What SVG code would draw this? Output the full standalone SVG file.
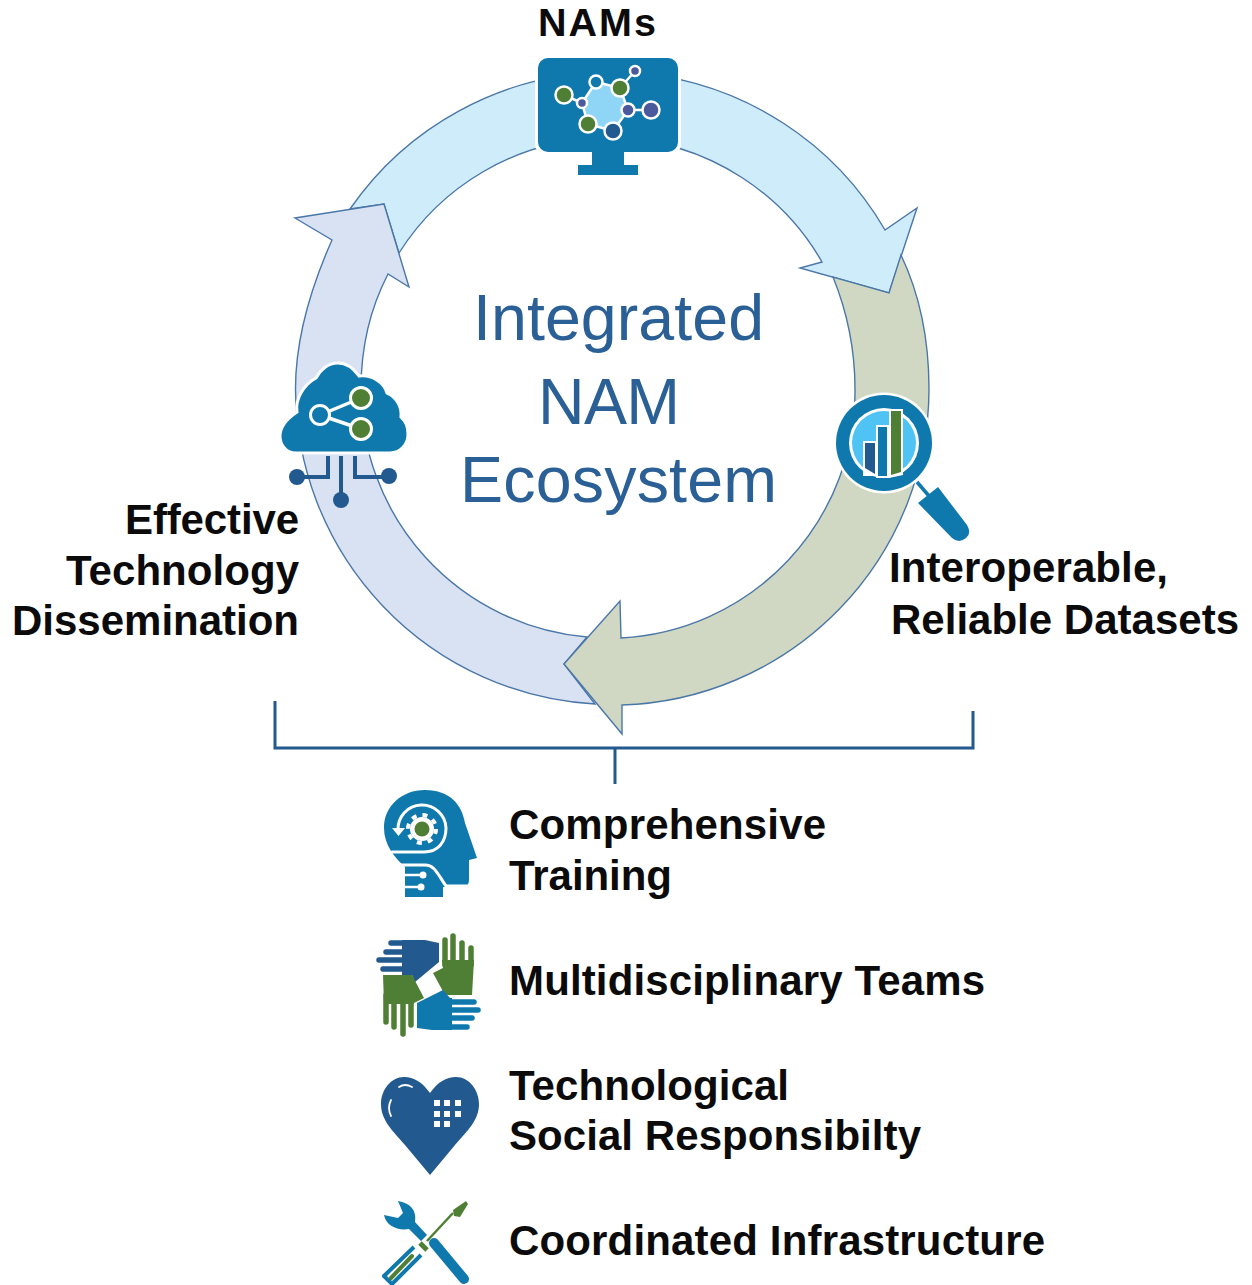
<svg xmlns="http://www.w3.org/2000/svg" width="1252" height="1285" viewBox="0 0 1252 1285">
<style>
.arrow{stroke:#4a77a8;stroke-width:1.4;stroke-linejoin:miter}
.t{font-family:"Liberation Sans",Arial,sans-serif;font-weight:700;font-size:42px;fill:#0b0b0b}
.c{font-family:"Liberation Sans",Arial,sans-serif;font-size:64.5px;fill:#2a6096}
.wl{fill:none;stroke:#fff;stroke-linecap:round}
.dk{fill:#22598f}.bl{fill:#0f79ad}.gr{fill:#4f7f35}.pu{fill:#4a5a9c}
.ring{stroke:#fff;stroke-width:2.5}
.dkf{stroke:#22598f;stroke-width:5.500;stroke-linecap:round;fill:none}
.grf{stroke:#4f7f35;stroke-width:5.500;stroke-linecap:round;fill:none}
.blf{stroke:#0f79ad;stroke-width:5.500;stroke-linecap:round;fill:none}
</style>
<rect width="1252" height="1285" fill="#fff"/>
<g id="connectors">
<path id="arrow-nams" class="arrow" fill="#cfecfb" d="M350 209A317 317 0 0 1 885 230L917 208L889 293L800 268L822 262A247 247 0 0 0 399 253L384 204Z"/>
<path id="arrow-dissemination" class="arrow" fill="#d9e2f3" d="M595 704A317 317 0 0 1 295.500 389C295.500 335 312 285 332 240L295 218L384 204L409 287L388 274C372 305 361 345 361 389A247 247 0 0 0 587 637L564 664Z"/>
<path id="arrow-datasets" class="arrow" fill="#d0d8c3" d="M901 255C920 295 929 340 929 389A317 317 0 0 1 622 705L622 734L564 664L620 601L621 638A247 247 0 0 0 855 389C855 348 846 309 833 277L889 293Z"/>
<path id="bracket" d="M275 701V748H973V711M615 748V784" fill="none" stroke="#22598f" stroke-width="3"/>
</g>
<g id="center-label">
<text class="c" x="473" y="340" textLength="291">Integrated</text>
<text class="c" x="538" y="424" textLength="142">NAM</text>
<text class="c" x="460" y="502" textLength="317">Ecosystem</text>
</g>
<g id="node-nams">
<text class="t" x="538" y="36" textLength="118" style="font-size:39.500px">NAMs</text>
<path fill="#fff" d="M546 55H670A11 11 0 0 1 681 66V144A11 11 0 0 1 670 155H627V162H641V178H575V162H589V155H546A11 11 0 0 1 535 144V66A11 11 0 0 1 546 55Z"/>
<path class="bl" d="M548 58H668A10 10 0 0 1 678 68V142A10 10 0 0 1 668 152H624V165H638V175H578V165H592V152H548A10 10 0 0 1 538 142V68A10 10 0 0 1 548 58Z"/>
<polygon points="582,103 596,82 620,88 628,110 613,131 588,124" fill="#8fd6f6" stroke="#fff" stroke-width="2.500"/>
<path d="M564 95L582 103M620 88L635 71M628 110L651 110" stroke="#fff" stroke-width="2.500"/>
<circle class="gr ring" cx="564" cy="95" r="8.500"/>
<circle class="pu ring" cx="582" cy="103" r="5"/>
<circle class="bl ring" cx="596" cy="82" r="6.500"/>
<circle class="gr ring" cx="620" cy="88" r="8.500"/>
<circle class="pu ring" cx="635" cy="71" r="5"/>
<circle class="pu ring" cx="628" cy="110" r="6.500"/>
<circle class="pu ring" cx="651" cy="110" r="8.500"/>
<circle class="dk ring" cx="613" cy="131" r="8.500"/>
<circle class="gr ring" cx="588" cy="124" r="8.500"/>
</g>
<g id="node-datasets">
<circle cx="884" cy="443" r="50.500" fill="#fff"/>
<circle class="bl" cx="884" cy="443" r="48"/>
<circle cx="884" cy="443" r="35" fill="#fff"/>
<circle cx="884" cy="443" r="32" fill="#4fc3f3"/>
<path d="M863 441H877V476H863ZM876 425H889V478H876ZM889 409H903V475L889 478Z" fill="#fff"/>
<path class="dk" d="M865 443H875V474L865 468Z"/>
<path class="bl" d="M878 427H887V476H878Z"/>
<path class="gr" d="M891 411H901V472L891 475Z"/>
<path d="M917 482L929 496" stroke="#0f79ad" stroke-width="3.500"/>
<path class="bl" d="M938 487L967 525Q972 533 966 538Q959 544 952 538L918 503Z"/>
<text class="t" x="889" y="582" textLength="279">Interoperable,</text>
<text class="t" x="891" y="634" textLength="348">Reliable Datasets</text>
</g>
<g id="node-dissemination">
<path id="cloud" class="bl" stroke="#fff" stroke-width="3" d="M296 453C285 453 280 444 280 436C280 426 288 418 297 412C295 400 303 385 316 378C320 370 328 363 338 363C348 363 354 369 359 376C371 374 384 382 387 393C397 397 402 408 401 417C407 422 408 428 408 434C408 445 400 453 390 453Z"/>
<path class="wl" stroke-width="3.500" d="M320 415L361 398M320 415L361 429"/>
<circle class="bl" cx="320" cy="415" r="9.500" stroke="#fff" stroke-width="3"/>
<circle class="gr" cx="361" cy="398" r="10.500" stroke="#fff" stroke-width="3"/>
<circle class="gr" cx="361" cy="429" r="10.500" stroke="#fff" stroke-width="3"/>
<path d="M341 456V497M328 456V477H297M355 456V477H388" fill="none" stroke="#22598f" stroke-width="4"/>
<circle class="dk" cx="341" cy="500" r="8"/>
<circle class="dk" cx="297" cy="477" r="8"/>
<circle class="dk" cx="389" cy="476" r="8"/>
<text class="t" x="299" y="534" text-anchor="end" textLength="174">Effective</text>
<text class="t" x="299" y="585" text-anchor="end" textLength="233">Technology</text>
<text class="t" x="299" y="635" text-anchor="end" textLength="287">Dissemination</text>
</g>
<g id="node-training">
<path class="bl" d="M425 790C450 790 462 805 465 823L477 858L469 860V880Q469 887 462 887H443V897H405V867C395 858 384 845 384 828C384 806 402 790 425 790Z"/>
<path class="wl" stroke-width="3" stroke-linecap="butt" d="M398 830A24 24 0 0 1 446 828C446 842 438 852 424 852L392 852"/>
<path d="M392 828H405L398.500 836Z" fill="#fff"/>
<path class="wl" stroke-width="3" stroke-linecap="butt" d="M400 865H425C435 865 438 875 446 886H472"/>
<circle cx="422" cy="829" r="12" fill="#fff"/>
<circle cx="422" cy="829" r="14" fill="none" stroke="#fff" stroke-width="4" stroke-dasharray="5 6"/>
<circle class="gr" cx="422" cy="829" r="7.500"/>
<path class="wl" stroke-width="2.500" stroke-linecap="butt" d="M405 875H422M405 887H420"/>
<circle cx="423" cy="875" r="3.500" fill="#fff"/><circle cx="421" cy="887" r="3.500" fill="#fff"/>
<text class="t" x="509" y="839" textLength="317">Comprehensive</text>
<text class="t" x="509" y="890" textLength="163">Training</text>
</g>
<g id="node-teams">
<path class="dkf" d="M391 943H415M386 952H415M379 960H415M383 969H415"/>
<path class="dk" d="M402 940H425L439 943V962L415 982L412 975H402Z"/>
<path class="grf" d="M445 965V940M453 965V936M462 965V943M471 965V948"/>
<path class="gr" d="M442 960H474L472 995H445L433 973L443 968Z"/>
<path class="grf" d="M386 995V1022M394 995V1027M403 995V1034M411 995V1025"/>
<path class="gr" d="M383 975H412L424 998L414 1003V1004H384Z"/>
<path class="blf" d="M445 1002H474M445 1010H478M445 1018H472M445 1027H467"/>
<path class="bl" d="M443 990L450 998H452V1030H432L417 1028V1003Z"/>
<text class="t" x="509" y="995" textLength="476">Multidisciplinary Teams</text>
</g>
<g id="node-responsibility">
<path class="dk" d="M430 1093C422 1082 414 1077 404 1077C391 1077 381 1090 381 1104C381 1120 392 1130 405 1145L430 1175L455 1145C468 1130 479 1120 479 1104C479 1090 469 1077 456 1077C446 1077 438 1082 430 1093Z"/>
<path class="wl" stroke-width="1.800" d="M399 1087Q405 1083 412 1087M391 1100Q387 1108 391 1116"/>
<g fill="#fff"><rect x="434" y="1100" width="6" height="6"/><rect x="444" y="1100" width="6" height="6"/><rect x="455" y="1100" width="6" height="6"/><rect x="434" y="1111" width="6" height="6"/><rect x="444" y="1111" width="6" height="6"/><rect x="455" y="1111" width="6" height="6"/><rect x="434" y="1121" width="6" height="6"/><rect x="444" y="1121" width="6" height="6"/></g>
<text class="t" x="509" y="1100" textLength="280">Technological</text>
<text class="t" x="509" y="1150" textLength="412">Social Responsibilty</text>
</g>
<g id="node-infrastructure">
<path class="bl" d="M398 1201C410 1203 417 1210 415 1222L427 1235L421 1241L409 1229C398 1231 386 1226 384 1215L398 1218L403 1213Z"/>
<path d="M434 1243L464 1279" stroke="#0f79ad" stroke-width="10" stroke-linecap="round"/>
<path d="M427 1241L453 1213" stroke="#4f7f35" stroke-width="2.500"/>
<path class="gr" d="M453 1210L466 1201L468 1204L460 1217L454 1216Z"/>
<path d="M420 1243L427 1250" stroke="#4f7f35" stroke-width="5"/>
<path d="M414 1247L384 1276L392 1284L421 1255" fill="none" stroke="#0f79ad" stroke-width="4" stroke-linejoin="round"/>
<path d="M412 1256L391 1278" stroke="#4f7f35" stroke-width="4" stroke-linecap="round"/>
<text class="t" x="509" y="1255" textLength="536">Coordinated Infrastructure</text>
</g>
</svg>
